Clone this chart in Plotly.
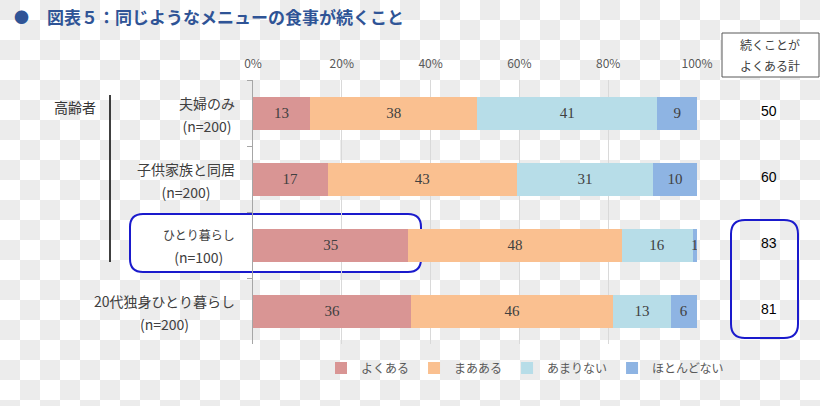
import base64, struct, zlib
import numpy as np
import plotly.graph_objects as go

# ---------------- data ----------------
categories = ["夫婦のみ", "子供家族と同居", "ひとり暮らし", "20代独身ひとり暮らし"]
n_labels = ["(n=200)", "(n=200)", "(n=100)", "(n=200)"]
series_names = ["よくある", "まあある", "あまりない", "ほとんどない"]
often = [13, 17, 35, 36]
sometimes = [38, 43, 48, 46]
rarely = [41, 31, 16, 13]
never = [9, 10, 1, 6]
often_total = [50, 60, 83, 81]
x_ticks = [0, 20, 40, 60, 80, 100]
x_tick_labels = ["0%", "20%", "40%", "60%", "80%", "100%"]
title_text = "図表５：同じようなメニューの食事が続くこと"
group_label = "高齢者"
total_header = "続くことが<br>よくある計"

# ---------------- styles ----------------
colors = ["#d99594", "#fac090", "#b7dde8", "#8eb4e3"]
label_sizes = [14, 14, 12, 14]
W, H = 820, 406
L, R, T, B = 253, 123, 80, 62
PW, PH = W - L - R, H - T - B
JP = "Noto Sans CJK JP"


def px2x(px):
    return (px - L) / PW


def py2y(py):
    return 1 - (py - T) / PH


# checkerboard background (transparent-image look)
xs = np.arange(W) // 20
ys = np.arange(H) // 20
img = np.where(((xs[None, :] + ys[:, None]) % 2) == 0, 236, 255).astype(np.uint8)
raw = b"".join(b"\x00" + img[r].tobytes() for r in range(H))


def _chunk(t, d):
    c = struct.pack(">I", len(d)) + t + d
    return c + struct.pack(">I", zlib.crc32(t + d) & 0xFFFFFFFF)


png = (b"\x89PNG\r\n\x1a\n" + _chunk(b"IHDR", struct.pack(">IIBBBBB", W, H, 8, 0, 0, 0, 0))
       + _chunk(b"IDAT", zlib.compress(raw, 9)) + _chunk(b"IEND", b""))
checker_src = "data:image/png;base64," + base64.b64encode(png).decode()

fig = go.Figure()
for name, vals, col in zip(series_names, [often, sometimes, rarely, never], colors):
    fig.add_trace(go.Bar(
        y=categories, x=vals, name=name, orientation="h",
        marker=dict(color=col, line=dict(width=0)),
        text=vals, texttemplate="%{text}", textposition="inside",
        insidetextanchor="middle", constraintext="none",
        textfont=dict(family="Liberation Serif", size=15, color="#404040"),
        hoverinfo="skip",
    ))


def rounded(x0, y0, x1, y1, r):
    X, Y = px2x, py2y
    return (f"M {X(x0+r)},{Y(y0)} L {X(x1-r)},{Y(y0)} Q {X(x1)},{Y(y0)} {X(x1)},{Y(y0+r)} "
            f"L {X(x1)},{Y(y1-r)} Q {X(x1)},{Y(y1)} {X(x1-r)},{Y(y1)} "
            f"L {X(x0+r)},{Y(y1)} Q {X(x0)},{Y(y1)} {X(x0)},{Y(y1-r)} "
            f"L {X(x0)},{Y(y0+r)} Q {X(x0)},{Y(y0)} {X(x0+r)},{Y(y0)} Z")


shapes = [
    dict(type="path", xref="paper", yref="paper", path=rounded(130, 214, 421, 272, 13),
         line=dict(color="#1a1acc", width=2), fillcolor="white", layer="below"),
    dict(type="path", xref="paper", yref="paper", path=rounded(731, 220, 798, 338, 14),
         line=dict(color="#1a1acc", width=2), fillcolor="rgba(0,0,0,0)", layer="above"),
    dict(type="rect", xref="paper", yref="paper", x0=px2x(722), x1=px2x(819),
         y0=py2y(33), y1=py2y(77), line=dict(color="#595959", width=1), fillcolor="white"),
    dict(type="line", xref="paper", yref="paper", x0=px2x(110), x1=px2x(110),
         y0=py2y(95), y1=py2y(262), line=dict(color="black", width=1.5)),
]

annotations = [
    dict(text="●", xref="paper", yref="paper", x=px2x(12), y=py2y(17), xanchor="left",
         yanchor="middle", showarrow=False, font=dict(family=JP, size=15, color="#2f5496")),
    dict(text="<b>" + title_text + "</b>", xref="paper", yref="paper", x=px2x(45), y=py2y(16),
         xanchor="left", yanchor="middle", showarrow=False,
         font=dict(family=JP, size=17, color="#2f5496")),
    dict(text=group_label, xref="paper", yref="paper", x=px2x(75), y=py2y(107),
         xanchor="center", yanchor="middle", showarrow=False,
         font=dict(family=JP, size=14, color="#333333")),
    dict(text="<span style='font-size:12px'>" + total_header.replace("<br>", "</span><br><span style='font-size:12px'>") + "</span>",
         xref="paper", yref="paper", x=px2x(770), y=py2y(55), xanchor="center", yanchor="middle",
         showarrow=False, align="center", font=dict(family=JP, size=16, color="#404040")),
]
for cat, n, fs, tot in zip(categories, n_labels, label_sizes, often_total):
    annotations.append(dict(
        text=f"<span style='font-size:{fs}px'>{cat}</span><br><span style='font-size:14px'>{n}</span>",
        xref="paper", yref="y", x=0, y=cat, xshift=-16, yshift=-1, xanchor="right", yanchor="middle",
        align="center", showarrow=False, font=dict(family=JP, size=18, color="#404040")))
    annotations.append(dict(
        text=str(tot), xref="paper", yref="y", x=px2x(769), y=cat, yshift=2,
        xanchor="center", yanchor="middle", showarrow=False,
        font=dict(family="Liberation Sans", size=14, color="black")))

fig.update_layout(
    width=W, height=H, margin=dict(l=L, r=R, t=T, b=B, pad=0),
    barmode="stack", barnorm="percent", bargap=0.5,
    paper_bgcolor="white", plot_bgcolor="rgba(0,0,0,0)",
    font=dict(family=JP, color="#595959"),
    xaxis=dict(side="top", range=[0, 100], tickmode="array", tickvals=x_ticks, ticktext=x_tick_labels,
               showgrid=True, gridcolor="#d9d9d9", gridwidth=1, zeroline=False, showline=False,
               ticks="", ticklabelstandoff=9,
               tickfont=dict(family=JP, size=12, color="#595959"), fixedrange=True),
    yaxis=dict(categoryorder="array", categoryarray=categories, autorange="reversed",
               showticklabels=False, showline=True, linecolor="#a6a6a6", linewidth=1,
               ticks="outside", tickson="boundaries", ticklen=5, tickcolor="#a6a6a6",
               showgrid=False, fixedrange=True),
    legend=dict(orientation="h", x=px2x(525), xanchor="center", y=py2y(368), yanchor="middle",
                font=dict(family=JP, size=12, color="#595959"), bgcolor="rgba(0,0,0,0)",
                traceorder="normal", itemwidth=30),
    shapes=shapes, annotations=annotations,
    images=[dict(source=checker_src, xref="paper", yref="paper", x=-L / PW, y=1 + T / PH,
                 sizex=W / PW, sizey=H / PH, sizing="stretch", xanchor="left", yanchor="top",
                 layer="below")],
)

fig.write_html("out.html")
